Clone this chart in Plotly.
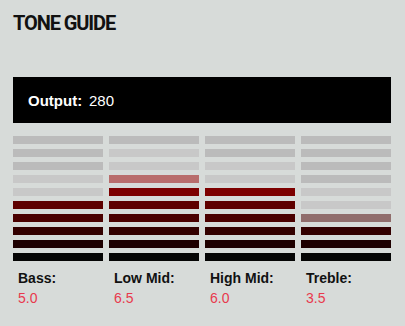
import math
import plotly.graph_objects as go

# ---- data ----
categories = ["Bass", "Low Mid", "High Mid", "Treble"]
values = [5.0, 6.5, 6.0, 3.5]
output_value = 280
n_levels = 10
level_colors = ["#050505", "#1e0000", "#330000", "#4a0000", "#5e0000",
                "#7d0000", "#990000", "#a80000", "#b80000", "#c80000"]

BG = "#d7dbd9"
GRAY_DARK = "#bbbbbb"
GRAY_LIGHT = "#c8c8c8"
RED_TEXT = "#e8394d"
W, H = 405, 326


def hex_rgba(h, a):
    h = h.lstrip("#")
    r, g, b = int(h[0:2], 16), int(h[2:4], 16), int(h[4:6], 16)
    return f"rgba({r},{g},{b},{a})"


xs, bases, heights, colors = [], [], [], []
seg_h = 8 / 13
for i, v in enumerate(values):
    for r in range(1, n_levels + 1):
        if r <= math.floor(v):
            c = level_colors[r - 1]
        elif abs((r - 0.5) - v) < 1e-9:
            c = hex_rgba(level_colors[r - 1], 0.5)
        elif r <= math.ceil(v) + 2:
            c = GRAY_LIGHT
        else:
            c = GRAY_DARK
        xs.append(i)
        bases.append(r - seg_h / 2)
        heights.append(seg_h)
        colors.append(c)

fig = go.Figure(go.Bar(
    x=xs, y=heights, base=bases, width=90 / 96,
    marker=dict(color=colors, line=dict(width=0)),
    hoverinfo="skip", showlegend=False,
))

# pixel helpers for layout placement
def px_x(p):
    return p / W

def px_y(p):
    return 1 - p / H

fig.update_layout(
    width=W, height=H, margin=dict(l=0, r=0, t=0, b=0),
    paper_bgcolor=BG, plot_bgcolor=BG, barmode="overlay",
    xaxis=dict(range=[-0.5, 3.5], domain=[px_x(10), px_x(394)], visible=False, fixedrange=True),
    yaxis=dict(range=[0.5, 10.5], domain=[px_y(263.5), px_y(133.5)], visible=False, fixedrange=True),
    shapes=[dict(type="rect", xref="paper", yref="paper",
                 x0=px_x(13), x1=px_x(391), y0=px_y(123), y1=px_y(77),
                 fillcolor="#000000", line=dict(width=0), layer="below")],
)

ann = []
ann.append(dict(text='<span style="letter-spacing:-1.1px"><b>TONE GUIDE</b></span>',
                xref="paper", yref="paper",
                x=px_x(10.5), y=px_y(22.5), xanchor="left", yanchor="middle",
                showarrow=False,
                font=dict(family="Roboto, sans-serif", size=20, color="#111111")))
ann.append(dict(text="<b>Output:</b>", xref="paper", yref="paper",
                x=px_x(26), y=px_y(100), xanchor="left", yanchor="middle",
                showarrow=False,
                font=dict(family="Liberation Sans, Arial, sans-serif", size=15, color="#ffffff")))
ann.append(dict(text=str(output_value), xref="paper", yref="paper",
                x=px_x(87), y=px_y(100), xanchor="left", yanchor="middle",
                showarrow=False,
                font=dict(family="Liberation Sans, Arial, sans-serif", size=15, color="#ffffff")))
for i, (cat, v) in enumerate(zip(categories, values)):
    ann.append(dict(text=f"<b>{cat}:</b>", xref="x", yref="paper",
                    x=i - 45 / 96, xshift=3, y=px_y(277.5), xanchor="left", yanchor="middle",
                    showarrow=False,
                    font=dict(family="Liberation Sans, Arial, sans-serif", size=14, color="#111111")))
    ann.append(dict(text=f"{v:.1f}", xref="x", yref="paper",
                    x=i - 45 / 96, xshift=3, y=px_y(298), xanchor="left", yanchor="middle",
                    showarrow=False,
                    font=dict(family="Liberation Sans, Arial, sans-serif", size=14, color=RED_TEXT)))
fig.update_layout(annotations=ann)

fig.write_html("out.html")
